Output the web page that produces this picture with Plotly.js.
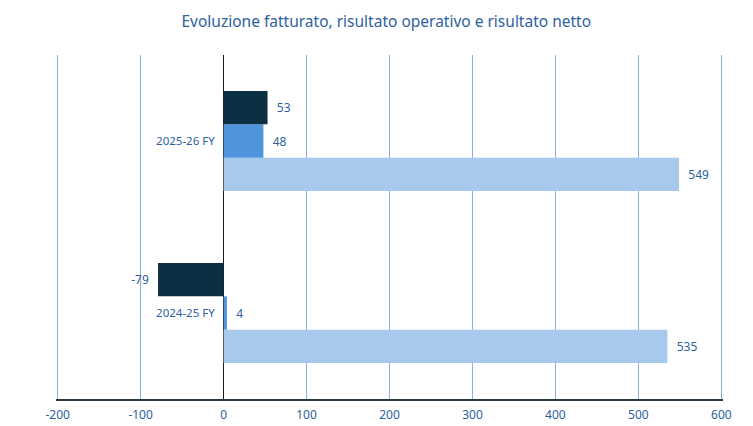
<!DOCTYPE html>
<html>
<head>
<meta charset="utf-8">
<script src="https://cdn.plot.ly/plotly-3.0.1.min.js"></script>
<style>
  html, body { margin: 0; padding: 0; background: #fff; }
  #chart { width: 753px; height: 426px; }
</style>
</head>
<body>
<div id="chart"></div>
<script>
// categories, bottom to top
const years = ["2024-25 FY", "2025-26 FY"];

// series values per year
const fatturato = [535, 549];
const risultatoOperativo = [4, 48];
const risultatoNetto = [-79, 53];

// x axis ticks
const xTicks = [-200, -100, 0, 100, 200, 300, 400, 500, 600];
const xTickText = ["-200", "-100", "0", "100", "200", "300", "400", "500", "600"];

const blueText = "#2f5f9e";
const pad = "\u00a0\u00a0";

function barTrace(name, values, color) {
  return {
    type: "bar",
    orientation: "h",
    name: name,
    y: years,
    x: values,
    text: values.map(v => v < 0 ? String(v) + pad : pad + String(v)),
    textposition: "outside",
    cliponaxis: false,
    textfont: { color: blueText, size: 12 },
    marker: { color: color },
    hoverinfo: "x+name"
  };
}

const traces = [
  barTrace("Fatturato", fatturato, "#a6c9ec"),
  barTrace("Risultato operativo", risultatoOperativo, "#4e95db"),
  barTrace("Risultato netto", risultatoNetto, "#0d2f43")
];

const layout = {
  width: 753,
  height: 426,
  margin: { l: 56, r: 30, t: 55, b: 27, pad: 0 },
  paper_bgcolor: "#ffffff",
  plot_bgcolor: "#ffffff",
  font: { family: "Noto Sans, Open Sans, sans-serif", size: 12, color: blueText },
  title: {
    text: "Evoluzione fatturato, risultato operativo e risultato netto",
    font: { size: 15.5, color: "#2f5f9e" },
    x: 0.513,
    y: 0.962,
    xanchor: "center"
  },
  showlegend: false,
  barmode: "group",
  bargap: 0.42,
  bargroupgap: 0,
  xaxis: {
    range: [-202, 602],
    tickmode: "array",
    tickvals: xTicks,
    ticktext: xTickText,
    showgrid: true,
    gridcolor: "#8eb1da",
    gridwidth: 1,
    zeroline: true,
    zerolinecolor: "#1a1a1a",
    zerolinewidth: 1,
    showline: true,
    linecolor: "#2b3a44",
    linewidth: 1.5,
    ticks: "",
    ticklabelstandoff: 4,
    tickfont: { size: 12, color: blueText },
    fixedrange: true
  },
  yaxis: {
    anchor: "free",
    position: 0.25,
    showgrid: false,
    zeroline: false,
    showline: false,
    ticks: "",
    ticklabelstandoff: 8,
    tickfont: { size: 11.5, color: blueText },
    fixedrange: true
  }
};

Plotly.newPlot("chart", traces, layout, { displayModeBar: false, staticPlot: true });
</script>
</body>
</html>
